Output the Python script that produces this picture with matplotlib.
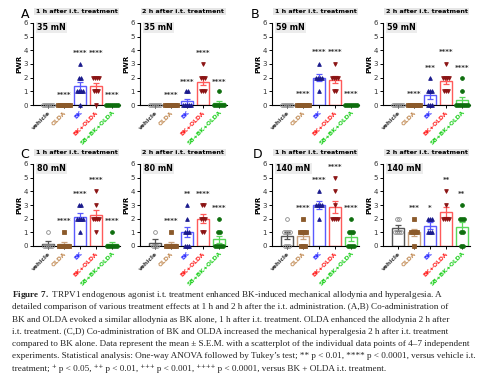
import numpy as np
import matplotlib
matplotlib.use("Agg")
import matplotlib.pyplot as plt

groups = ["vehicle", "OLDA", "BK", "BK+OLDA", "SB+BK+OLDA"]
forces = ["35 mN", "59 mN", "80 mN", "140 mN"]
letters = ["A", "B", "C", "D"]
times = ["1 h after i.t. treatment", "2 h after i.t. treatment"]

# individual PWR values per group
pwr_35_1h = [[0, 0, 0, 0, 0, 0], [0, 0, 0, 0, 0, 0, 0], [3, 2, 2, 1, 1, 1, 1, 0],
             [2, 2, 2, 2, 1, 1, 1, 0], [0, 0, 0, 0, 0, 0, 0]]
pwr_35_2h = [[0, 0, 0, 0, 0, 0], [0, 0, 0, 0, 0, 0, 0], [1, 1, 0, 0, 0, 0, 0],
             [3, 2, 2, 2, 1, 1, 1], [1, 0, 0, 0, 0, 0, 0]]
pwr_59_1h = [[0, 0, 0, 0, 0, 0], [0, 0, 0, 0, 0, 0, 0], [3, 2, 2, 2, 2, 1],
             [3, 2, 2, 2, 2, 1, 1], [0, 0, 0, 0, 0, 0, 0]]
pwr_59_2h = [[0, 0, 0, 0, 0, 0], [0, 0, 0, 0, 0, 0, 0], [2, 1, 1, 1, 0, 0, 0],
             [3, 2, 2, 2, 2, 1, 1, 1], [2, 1, 0, 0, 0, 0, 0, 0, 0]]
pwr_80_1h = [[1, 0, 0, 0, 0, 0], [1, 0, 0, 0, 0, 0, 0], [3, 3, 2, 2, 2, 2, 1],
             [4, 3, 2, 2, 2, 2, 1], [1, 0, 0, 0, 0, 0, 0]]
pwr_80_2h = [[1, 0, 0, 0], [1, 0, 0, 0, 0, 0, 0], [3, 2, 1, 1, 1, 0, 0, 0],
             [3, 3, 2, 2, 2, 1, 1], [2, 1, 1, 0, 0, 0, 0, 0]]
pwr_140_1h = [[2, 1, 1, 1, 1, 0, 0, 0], [2, 1, 1, 1, 1, 0, 0, 0], [4, 3, 3, 3, 3, 2],
              [5, 4, 3, 2, 2, 2, 2], [2, 1, 1, 1, 0, 0, 0, 0]]
pwr_140_2h = [[2, 2, 1, 1, 1, 1], [2, 1, 1, 1, 1, 0], [2, 2, 2, 1, 1, 1],
              [4, 3, 2, 2, 2, 2], [3, 2, 2, 2, 1, 1, 0, 0]]

# significance marks and their heights
stars_35_1h = ["", "****", "****", "****", "****"]
stars_35_2h = ["", "****", "****", "****", "****"]
stars_59_1h = ["", "****", "****", "****", "****"]
stars_59_2h = ["", "****", "***", "****", "****"]
stars_80_1h = ["", "****", "****", "****", "****"]
stars_80_2h = ["", "****", "**", "****", "****"]
stars_140_1h = ["", "****", "****", "****", "****"]
stars_140_2h = ["", "***", "*", "**", "**"]
star_y_35_1h = [0, 0.75, 3.8, 3.8, 0.75]
star_y_35_2h = [0, 0.75, 1.7, 3.8, 1.7]
star_y_59_1h = [0, 0.8, 3.9, 3.9, 0.8]
star_y_59_2h = [0, 0.8, 2.7, 3.9, 2.7]
star_y_80_1h = [0, 1.8, 3.8, 4.8, 1.8]
star_y_80_2h = [0, 1.8, 3.8, 3.8, 2.8]
star_y_140_1h = [0, 2.8, 4.8, 5.8, 2.8]
star_y_140_2h = [0, 2.8, 2.8, 4.8, 3.8]

panels = [
    [(pwr_35_1h, stars_35_1h, star_y_35_1h), (pwr_35_2h, stars_35_2h, star_y_35_2h)],
    [(pwr_59_1h, stars_59_1h, star_y_59_1h), (pwr_59_2h, stars_59_2h, star_y_59_2h)],
    [(pwr_80_1h, stars_80_1h, star_y_80_1h), (pwr_80_2h, stars_80_2h, star_y_80_2h)],
    [(pwr_140_1h, stars_140_1h, star_y_140_1h), (pwr_140_2h, stars_140_2h, star_y_140_2h)],
]

bar_colors = ["#555555", "#c9a27e", "#5a5aff", "#ff5a5a", "#5ad85a"]
pt_colors = ["#8a8a8a", "#8b5a2b", "#1a1a8c", "#8b1414", "#0e6e0e"]
label_colors = ["#333333", "#c08850", "#3030ff", "#ff2020", "#20d020"]
markers = ["o", "s", "^", "v", "o"]

W, H = 493, 390
fig = plt.figure(figsize=(W / 100, H / 100), dpi=100)

col_x = [33, 140, 272, 383]
row_base = [105, 246]
ax_w, ax_h = 87, 82


def draw_panel(ax, data, stars, star_y, force):
    x = np.arange(len(groups))
    means = [np.mean(v) for v in data]
    sems = [np.std(v, ddof=1) / np.sqrt(len(v)) for v in data]
    ax.bar(x, means, width=0.72, facecolor="white", edgecolor=bar_colors,
           linewidth=1.0, zorder=2)
    for i in range(len(groups)):
        ax.errorbar(x[i], means[i], yerr=sems[i], color=bar_colors[i],
                    capsize=2, elinewidth=0.9, capthick=0.9, zorder=3)
        vals = np.array(data[i])
        for v in np.unique(vals):
            k = np.sum(vals == v)
            offs = (np.arange(k) - (k - 1) / 2) * 0.13
            face = "none" if i == 0 else pt_colors[i]
            ax.plot(x[i] + offs, [v] * k, linestyle="none", marker=markers[i],
                    ms=2.7, mfc=face, mec=pt_colors[i], mew=0.6,
                    clip_on=False, zorder=4)
        if stars[i]:
            ax.text(x[i], star_y[i], stars[i], ha="center", va="center",
                    fontsize=5, color="#333333", fontweight="bold")
    ax.set_xlim(-0.95, 4.5)
    ax.set_ylim(0, 6)
    ax.set_yticks(range(7))
    ax.set_xticks(x)
    ax.set_xticklabels(groups, rotation=45, ha="right", rotation_mode="anchor",
                       fontsize=4.3, fontweight="bold")
    for lab, c in zip(ax.get_xticklabels(), label_colors):
        lab.set_color(c)
    ax.tick_params(axis="both", length=2, width=0.7, pad=1.5)
    ax.tick_params(axis="y", labelsize=5, labelcolor="#333333")
    ax.set_ylabel("PWR", fontsize=5, fontweight="bold", labelpad=1)
    for s in ["top", "right"]:
        ax.spines[s].set_visible(False)
    for s in ["left", "bottom"]:
        ax.spines[s].set_linewidth(0.8)
    ax.text(0.05, 1.0, force, transform=ax.transAxes, ha="left", va="top",
            fontsize=5.8, fontweight="bold",
            bbox=dict(facecolor="#ececec", edgecolor="none", pad=0.8))


for p in range(4):
    r, c = divmod(p, 2)
    for t in range(2):
        left = col_x[2 * c + t]
        base = row_base[r]
        ax = fig.add_axes([left / W, 1 - base / H, ax_w / W, ax_h / H])
        data, stars, star_y = panels[p][t]
        draw_panel(ax, data, stars, star_y, forces[p])
        ax.set_title(times[t], fontsize=4.6, fontweight="bold", pad=7,
                     bbox=dict(facecolor="#e6e6e6", edgecolor="none", pad=0.8))

letter_pos = [(25, 14), (255, 14), (25, 155), (258, 155)]
for letter, (lx, ly) in zip(letters, letter_pos):
    fig.text(lx / W, 1 - ly / H, letter, fontsize=9, ha="center", va="center")

caption = [
    r"$\bf{Figure\ 7.}$ TRPV1 endogenous agonist i.t. treatment enhanced BK-induced mechanical allodynia and hyperalgesia. A",
    "detailed comparison of various treatment effects at 1 h and 2 h after the i.t. administration. (A,B) Co-administration of",
    "BK and OLDA evoked a similar allodynia as BK alone, 1 h after i.t. treatment. OLDA enhanced the allodynia 2 h after",
    "i.t. treatment. (C,D) Co-administration of BK and OLDA increased the mechanical hyperalgesia 2 h after i.t. treatment",
    "compared to BK alone. Data represent the mean \u00b1 S.E.M. with a scatterplot of the individual data points of 4\u20137 independent",
    "experiments. Statistical analysis: One-way ANOVA followed by Tukey\u2019s test; ** p < 0.01, **** p < 0.0001, versus vehicle i.t.",
    "treatment; \u207a p < 0.05, \u207a\u207a p < 0.01, \u207a\u207a\u207a p < 0.001, \u207a\u207a\u207a\u207a p < 0.0001, versus BK + OLDA i.t. treatment.",
]
plt.rcParams["mathtext.fontset"] = "custom"
plt.rcParams["mathtext.bf"] = "Liberation Serif:bold"
plt.rcParams["mathtext.rm"] = "Liberation Serif"
for i, line in enumerate(caption):
    fig.text(12 / W, 1 - (295 + 12.3 * i) / H, line, fontsize=6.55,
             family=["Liberation Serif", "DejaVu Serif"], ha="left", va="center",
             color="#222222")

fig.savefig("out.png", dpi=100)
